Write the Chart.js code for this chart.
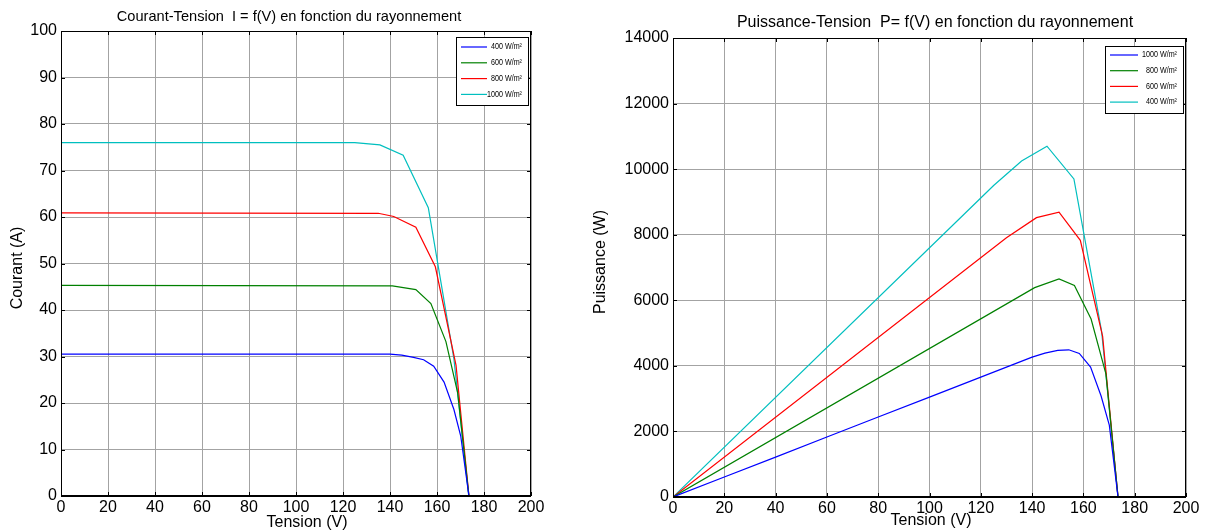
<!DOCTYPE html>
<html><head><meta charset="utf-8">
<script src="https://cdn.jsdelivr.net/npm/chart.js@4.4.1/dist/chart.umd.min.js"></script>
<style>
html,body{margin:0;padding:0;background:#fff;width:1210px;height:532px;overflow:hidden;}
#w1{position:absolute;left:0;top:0;width:600px;height:532px;}
#w2{position:absolute;left:585px;top:0;width:625px;height:532px;}
</style></head><body>
<div id="w1"><canvas id="c1"></canvas></div>
<div id="w2"><canvas id="c2"></canvas></div>
<script>
// ---------- data: Courant-Tension (I-V) ----------
const ivLabels = ['400 W/m²', '600 W/m²', '800 W/m²', '1000 W/m²'];
const ivVoltage400 = [0, 140, 145, 150, 154.3, 158.6, 163, 167.2, 170.1, 173.6];
const ivCurrent400 = [30.5, 30.5, 30.3, 29.8, 29.3, 27.9, 24.5, 18.6, 12.9, 0];
const ivVoltage600 = [0, 141, 151, 157.4, 163.8, 168.8, 173.6];
const ivCurrent600 = [45.3, 45.2, 44.4, 41.4, 33.2, 22.2, 0];
const ivVoltage800 = [0, 135, 141.6, 151, 159.3, 168.1, 173.6];
const ivCurrent800 = [60.9, 60.8, 60.1, 57.8, 49.3, 28.1, 0];
const ivVoltage1000 = [0, 125, 135.7, 145.6, 156.3, 167.2, 173.5];
const ivCurrent1000 = [76.0, 76.0, 75.5, 73.3, 62.0, 29.5, 0];

// ---------- data: Puissance-Tension (P-V) ----------
const pvLabels = ['1000 W/m²', '800 W/m²', '600 W/m²', '400 W/m²'];
const pvVoltageBlue = [0, 20, 40, 60, 80, 100, 120, 140, 145, 150, 154.3, 158.4, 162.8, 166.9, 170.1, 173.5];
const pvPowerBlue = [0, 610, 1215, 1830, 2440, 3045, 3655, 4265, 4390, 4470, 4490, 4380, 3960, 3080, 2190, 0];
const pvVoltageGreen = [0, 141, 150.5, 156.5, 163, 168.8, 173.5];
const pvPowerGreen = [0, 6385, 6650, 6450, 5430, 3750, 0];
const pvVoltageRed = [0, 130, 141.7, 150.5, 158.8, 167.5, 173.5];
const pvPowerRed = [0, 7910, 8520, 8690, 7830, 4900, 0];
const pvVoltageCyan = [0, 125, 135.9, 145.8, 156.3, 167.1, 173.5];
const pvPowerCyan = [0, 9500, 10250, 10700, 9700, 5050, 0];

// ---------- styles ----------
const C_BLUE = '#0000ff', C_GREEN = '#008000', C_RED = '#ff0000', C_CYAN = '#00bfbf';
const FONT = "'Liberation Sans', Arial, sans-serif";

function pts(xs, ys) { return xs.map((v, i) => ({ x: v, y: ys[i] })); }
function ds(label, xs, ys, color) {
  return { label, data: pts(xs, ys), borderColor: color, backgroundColor: color,
    borderWidth: 1.2, pointRadius: 0, fill: false, tension: 0 };
}

const framePlugin = {
  id: 'matlabFrame',
  afterDatasetsDraw(chart, args, o) {
    const { ctx, chartArea: a, scales } = chart;
    ctx.save();
    ctx.strokeStyle = '#000';
    ctx.lineWidth = 1;
    ctx.beginPath();
    ctx.moveTo(a.left + 0.5, a.bottom); ctx.lineTo(a.left + 0.5, a.top + 0.5);
    ctx.lineTo(a.right - 0.5, a.top + 0.5); ctx.lineTo(a.right - 0.5, a.bottom);
    ctx.stroke();
    ctx.lineWidth = 2;
    ctx.beginPath(); ctx.moveTo(a.left, a.bottom); ctx.lineTo(a.right, a.bottom); ctx.stroke();
    ctx.lineWidth = 1;
    ctx.beginPath();
    scales.x.ticks.forEach(t => {
      const px = Math.round(scales.x.getPixelForValue(t.value)) + 0.5;
      ctx.moveTo(px, a.top); ctx.lineTo(px, a.top + 4);
      ctx.moveTo(px, a.bottom); ctx.lineTo(px, a.bottom - 4);
    });
    scales.y.ticks.forEach(t => {
      const py = Math.round(scales.y.getPixelForValue(t.value)) + 0.5;
      ctx.moveTo(a.left, py); ctx.lineTo(a.left + 4, py);
      ctx.moveTo(a.right, py); ctx.lineTo(a.right - 4, py);
    });
    ctx.stroke();
    ctx.restore();
  },
  afterDraw(chart, args, o) {
    const { ctx } = chart;
    ctx.save();
    ctx.fillStyle = '#000';
    ctx.textBaseline = 'middle';
    ctx.font = o.titleSize + 'px ' + FONT;
    ctx.textAlign = 'center';
    ctx.fillText(o.title, o.titleX, o.titleY);
    ctx.font = '16px ' + FONT;
    ctx.fillText(o.xTitle, o.xTitleX, o.xTitleY);
    ctx.save();
    ctx.translate(o.yTitleX, o.yTitleY);
    ctx.rotate(-Math.PI / 2);
    ctx.fillText(o.yTitle, 0, 0);
    ctx.restore();
    const L = o.legend;
    ctx.fillStyle = '#fff';
    ctx.fillRect(L.x, L.y, L.w, L.h);
    ctx.strokeStyle = '#000';
    ctx.lineWidth = 1;
    ctx.strokeRect(L.x + 0.5, L.y + 0.5, L.w, L.h);
    chart.data.datasets.forEach((d, i) => {
      const yy = L.y + L.first + i * L.step;
      ctx.strokeStyle = d.borderColor;
      ctx.lineWidth = 1.2;
      ctx.beginPath(); ctx.moveTo(L.x + L.s0, yy); ctx.lineTo(L.x + L.s1, yy); ctx.stroke();
      ctx.save();
      ctx.fillStyle = '#000';
      ctx.font = '8.5px ' + FONT;
      ctx.textAlign = 'right';
      ctx.textBaseline = 'middle';
      ctx.translate(L.x + L.tx, yy);
      ctx.scale(0.84, 1);
      ctx.fillText(d.label, 0, 0);
      ctx.restore();
    });
    ctx.restore();
  }
};

function axisCfg(min, max, step, fitProp, fitVal, pad) {
  return {
    type: 'linear', min, max,
    ticks: { stepSize: step, color: '#000', font: { family: FONT, size: 16 }, padding: pad,
      autoSkip: false, maxRotation: 0, callback: v => String(v) },
    grid: { color: '#a3a3a3', lineWidth: 1, drawTicks: false },
    border: { display: false },
    afterFit(s) { s[fitProp] = fitVal; }
  };
}

new Chart(document.getElementById('c1'), {
  type: 'line',
  data: { datasets: [
    ds(ivLabels[0], ivVoltage400, ivCurrent400, C_BLUE),
    ds(ivLabels[1], ivVoltage600, ivCurrent600, C_GREEN),
    ds(ivLabels[2], ivVoltage800, ivCurrent800, C_RED),
    ds(ivLabels[3], ivVoltage1000, ivCurrent1000, C_CYAN)
  ]},
  options: {
    responsive: true, maintainAspectRatio: false, animation: false, devicePixelRatio: 1,
    layout: { padding: { top: 31, right: 69, left: 0, bottom: 0 } },
    scales: {
      x: axisCfg(0, 200, 20, 'height', 36, 2),
      y: axisCfg(0, 100, 10, 'width', 61, 4)
    },
    plugins: {
      legend: { display: false }, tooltip: { enabled: false },
      matlabFrame: {
        title: 'Courant-Tension  I = f(V) en fonction du rayonnement', titleSize: 14.6, titleX: 289, titleY: 17,
        xTitle: 'Tension (V)', xTitleX: 307, xTitleY: 523,
        yTitle: 'Courant (A)', yTitleX: 18, yTitleY: 268,
        legend: { x: 456, y: 37, w: 72, h: 68, first: 10, step: 15.8, s0: 5, s1: 31, tx: 66 }
      }
    }
  },
  plugins: [framePlugin]
});

new Chart(document.getElementById('c2'), {
  type: 'line',
  data: { datasets: [
    ds(pvLabels[0], pvVoltageBlue, pvPowerBlue, C_BLUE),
    ds(pvLabels[1], pvVoltageGreen, pvPowerGreen, C_GREEN),
    ds(pvLabels[2], pvVoltageRed, pvPowerRed, C_RED),
    ds(pvLabels[3], pvVoltageCyan, pvPowerCyan, C_CYAN)
  ]},
  options: {
    responsive: true, maintainAspectRatio: false, animation: false, devicePixelRatio: 1,
    layout: { padding: { top: 38, right: 24, left: 0, bottom: 0 } },
    scales: {
      x: axisCfg(0, 200, 20, 'height', 35, 2),
      y: axisCfg(0, 14000, 2000, 'width', 88, 4)
    },
    plugins: {
      legend: { display: false }, tooltip: { enabled: false },
      matlabFrame: {
        title: 'Puissance-Tension  P= f(V) en fonction du rayonnement', titleSize: 16, titleX: 350, titleY: 23,
        xTitle: 'Tension (V)', xTitleX: 346, xTitleY: 521,
        yTitle: 'Puissance (W)', yTitleX: 16, yTitleY: 262,
        legend: { x: 520, y: 46, w: 78, h: 67, first: 9, step: 15.7, s0: 5, s1: 33, tx: 72 }
      }
    }
  },
  plugins: [framePlugin]
});
</script>
</body></html>
